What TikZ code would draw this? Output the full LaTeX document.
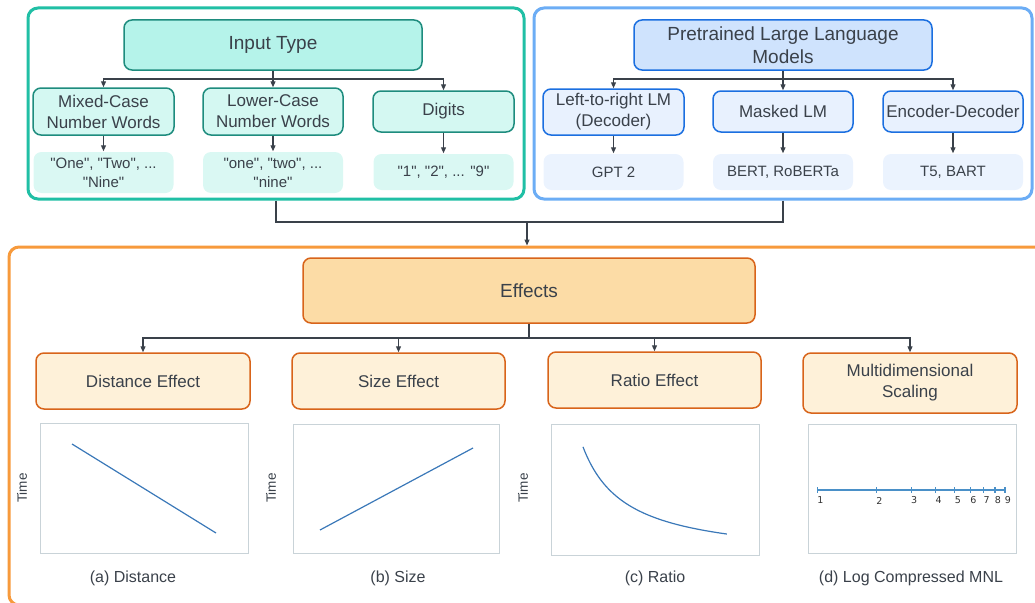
\documentclass[tikz,border=0pt]{standalone}
\usepackage{fontspec}
\setmainfont{Liberation Sans}[Ligatures=TeXOff]
\newfontfamily\dejavu{DejaVu Sans}
\usetikzlibrary{arrows.meta}
\definecolor{txt}{HTML}{3A414A}
\definecolor{linec}{HTML}{3A414A}
\definecolor{tealFr}{HTML}{20BFA5}
\definecolor{tealD}{HTML}{1E8C7E}
\definecolor{tealF1}{HTML}{B5F3EA}
\definecolor{tealF2}{HTML}{D4F8F2}
\definecolor{tealF3}{HTML}{DAF8F3}
\definecolor{blueFr}{HTML}{6CADF5}
\definecolor{blueD}{HTML}{1B6FE0}
\definecolor{blueF1}{HTML}{CFE3FD}
\definecolor{blueF2}{HTML}{E8F1FE}
\definecolor{blueF3}{HTML}{EBF3FE}
\definecolor{orFr}{HTML}{F79A3C}
\definecolor{orD}{HTML}{D8641A}
\definecolor{orF1}{HTML}{FCDCA6}
\definecolor{orF2}{HTML}{FEF1D9}
\definecolor{plotFr}{HTML}{C9D3D8}
\definecolor{plotL}{HTML}{3A78B8}
\definecolor{axisL}{HTML}{4A90C8}
\tikzset{
  conn/.style={draw=linec, line width=1.2pt},
  arr/.style={conn, -{Triangle[length=6pt,width=5pt]}},
  frame/.style={line width=3pt, rounded corners=10pt, inner sep=0pt},
  boxbase/.style={rounded corners=8pt, line width=1.5pt, align=center, inner sep=0pt},
  big/.style={font=\fontsize{19}{22.5}\selectfont},
  mid/.style={font=\fontsize{17}{21}\selectfont},
  small/.style={font=\fontsize{15}{19}\selectfont},
  tl1/.style={boxbase, big, draw=tealD, fill=tealF1},
  tl2/.style={boxbase, mid, draw=tealD, fill=tealF2},
  tv/.style={boxbase, small, fill=tealF3},
  bl1/.style={boxbase, big, draw=blueD, fill=blueF1},
  bl2/.style={boxbase, mid, draw=blueD, fill=blueF2},
  bv/.style={boxbase, small, fill=blueF3},
  ol1/.style={boxbase, big, draw=orD, fill=orF1},
  ol2/.style={boxbase, mid, draw=orD, fill=orF2},
  plotbox/.style={draw=plotFr, line width=1pt, inner sep=0pt},
  pline/.style={draw=plotL, line width=1.2pt},
  axisc/.style={draw=axisL, line width=1.1pt},
  timelab/.style={rotate=90, font=\fontsize{13.5}{16}\selectfont},
  caplab/.style={font=\fontsize{16}{19}\selectfont},
  ticklab/.style={font=\dejavu\fontsize{9.5}{11}\selectfont, text=black!80},
}
\begin{document}
\begin{tikzpicture}[x=1pt,y=-1pt, text=txt]
\useasboundingbox (0,0) rectangle (1035,602);
\clip (0,0) rectangle (1035,602);
% frames
\node[frame, draw=tealFr, minimum width=496pt, minimum height=191pt] (tf) at (276,103.5) {};
\node[frame, draw=blueFr, minimum width=498pt, minimum height=191pt] (bf) at (783,103.5) {};
\node[frame, draw=orFr, minimum width=1041pt, minimum height=358pt] (of) at (529.5,426) {};
% input type
\node[tl1, minimum width=298pt, minimum height=50pt] (it) at (273,45) {Input Type};
\node[tl2, minimum width=141pt, minimum height=47pt] (mc) at (103.5,111.5) {Mixed-Case\\Number Words};
\node[tl2, minimum width=140pt, minimum height=47pt] (lc) at (273,111.5) {Lower-Case\\Number Words};
\node[tl2, minimum width=141pt, minimum height=41pt] (dg) at (443.5,111.5) {Digits};
\node[tv, minimum width=140pt, minimum height=41pt] (mv) at (103.5,172.5) {"One", "Two", ...\\"Nine"};
\node[tv, minimum width=140pt, minimum height=41pt] (lv) at (273,172.5) {"one", "two", ...\\"nine"};
\node[tv, minimum width=140pt, minimum height=36pt] (dv) at (443.5,172) {"1", "2", ... "9"};
\coordinate (jt) at (273,79);
\draw[conn] (it.south) -- (jt);
\draw[arr] (jt) -| (mc.north);
\draw[arr] (jt) -- (lc.north);
\draw[arr] (jt) -| (dg.north);
\draw[arr] (mc.south) -- (mv.north);
\draw[arr] (lc.south) -- (lv.north);
\draw[arr] (dg.south) -- (dv.north);
% PLLM
\node[bl1, minimum width=298pt, minimum height=50pt] (pl) at (783,45) {Pretrained Large Language\\Models};
\node[bl2, minimum width=141pt, minimum height=46pt] (lr) at (613.5,112) {Left-to-right LM\\(Decoder)};
\node[bl2, minimum width=140pt, minimum height=41pt] (ml) at (783,111.5) {Masked LM};
\node[bl2, minimum width=140pt, minimum height=41pt] (ed) at (953,111.5) {Encoder-Decoder};
\node[bv, minimum width=140pt, minimum height=36pt] (lrv) at (613.5,172) {GPT 2};
\node[bv, minimum width=140pt, minimum height=36pt] (mlv) at (783,172) {BERT, RoBERTa};
\node[bv, minimum width=140pt, minimum height=36pt] (edv) at (953,172) {T5, BART};
\coordinate (jp) at (783,79);
\draw[conn] (pl.south) -- (jp);
\draw[arr] (jp) -| (lr.north);
\draw[arr] (jp) -- (ml.north);
\draw[arr] (jp) -| (ed.north);
\draw[arr] (lr.south) -- (lrv.north);
\draw[arr] (ml.south) -- (mlv.north);
\draw[arr] (ed.south) -- (edv.north);
% merge
\coordinate (jm) at (527,222);
\draw[conn] (tf.south) |- (jm);
\draw[conn] (bf.south) |- (jm);
\draw[arr] (jm) -- (jm |- of.north);
% effects
\node[ol1, minimum width=452pt, minimum height=65pt] (ef) at (529,290.5) {Effects};
\node[ol2, minimum width=214pt, minimum height=56pt] (de) at (143,381) {Distance Effect};
\node[ol2, minimum width=213pt, minimum height=56pt] (se) at (398.5,381) {Size Effect};
\node[ol2, minimum width=213pt, minimum height=56pt] (re) at (654.5,380) {Ratio Effect};
\node[ol2, minimum width=214pt, minimum height=60pt] (md) at (910,383) {Multidimensional\\Scaling};
\coordinate (je) at (529,338);
\draw[conn] (ef.south) -- (je);
\draw[arr] (je) -| (de.north);
\draw[arr] (je) -| (se.north);
\draw[arr] (je) -| (re.north);
\draw[arr] (je) -| (md.north);
% plots
\node[plotbox, minimum width=208pt, minimum height=130pt] (pa) at (144,488) {};
\node[plotbox, minimum width=206pt, minimum height=129pt] (pb) at (396,488.5) {};
\node[plotbox, minimum width=208pt, minimum height=131pt] (pc) at (655,489.5) {};
\node[plotbox, minimum width=208pt, minimum height=129pt] (pd) at (912,488.5) {};
\draw[pline] (72,444) -- (216,533);
\draw[pline] (320,530) -- (473,448);
\draw[pline] plot[domain=0:1, samples=80, smooth] ({583+144*\x},{560.2-34/(\x+0.3)});
\draw[axisc] (817.3,490) -- (1005,490);
\foreach \n in {1,...,9} {
  \pgfmathsetmacro\xx{817.3+187.7*ln(\n)/ln(9)}
  \draw[axisc] (\xx,487.3) -- (\xx,492.7);
  \node[ticklab] (tk\n) at (\xx+3,500.5) {\n};
}
\node[timelab] (ya) at (22,488) {Time};
\node[timelab] (yb) at (271,488) {Time};
\node[timelab] (yc) at (523,488) {Time};
\node[caplab] (ca) at (133,578) {(a) Distance};
\node[caplab] (cb) at (398,578) {(b) Size};
\node[caplab] (cc) at (655,578) {(c) Ratio};
\node[caplab] (cd) at (911,578) {(d) Log Compressed MNL};
\end{tikzpicture}
\end{document}
